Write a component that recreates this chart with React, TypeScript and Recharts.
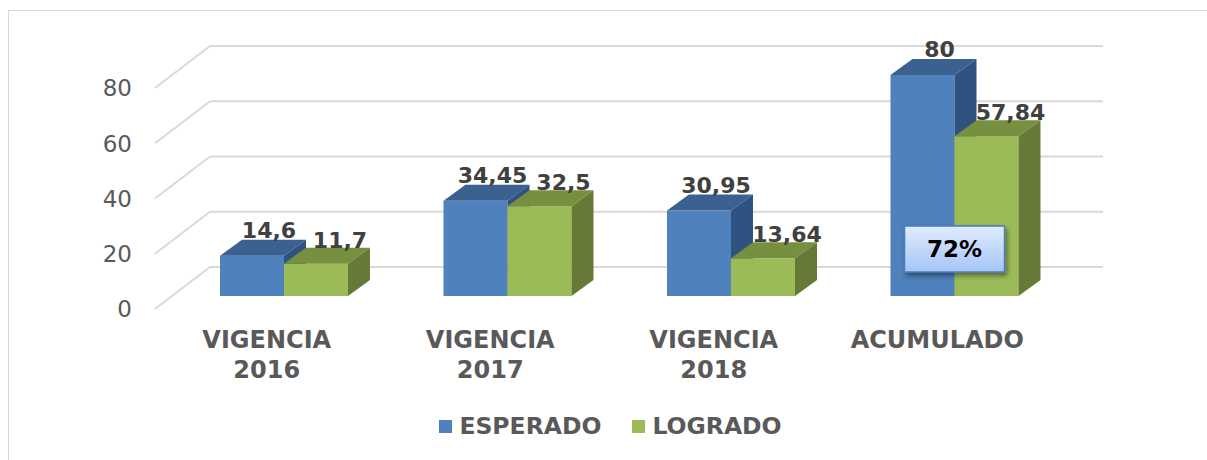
import React from "react"
import { BarChart, Bar, XAxis, YAxis, CartesianGrid, Legend, LabelList } from "recharts"

const categories = ["VIGENCIA 2016", "VIGENCIA 2017", "VIGENCIA 2018", "ACUMULADO"]
const esperado = [14.6, 34.45, 30.95, 80]
const logrado = [11.7, 32.5, 13.64, 57.84]
const yTicks = [0, 20, 40, 60, 80]

const data = categories.map((name, i) => ({
  name,
  esperado: esperado[i],
  logrado: logrado[i],
}))

const FONT = "'DejaVu Sans', Verdana, sans-serif"
const DX = 22
const DY = 16
// offsets of the back wall and of the axis labels from the bar plane
const WALL_SHIFT = -29
const FRONT_SHIFT = 13

const BLUE = { front: "#4f81bd", top: "#3a6190", side: "#2f5380" }
const GREEN = { front: "#9bbb59", top: "#76903f", side: "#667a37" }

const fmt = (v: number) => String(v).replace(".", ",")

function Box3D(props: any) {
  const { x, y, width, height, colors } = props
  if (height == null || width == null) return null
  const r = x + width
  const b = y + height
  return (
    <g>
      <rect x={x} y={y} width={width} height={height} fill={colors.front} />
      <polygon points={`${x},${y} ${x + DX},${y - DY} ${r + DX},${y - DY} ${r},${y}`} fill={colors.top} />
      <polygon points={`${r},${y} ${r + DX},${y - DY} ${r + DX},${b - DY} ${r},${b}`} fill={colors.side} />
    </g>
  )
}

function GridLine(props: any) {
  const { y1, index } = props
  const y = y1
  return (
    <g key={`g-${index}`}>
      <line x1={210} x2={1103} y1={y + WALL_SHIFT} y2={y + WALL_SHIFT} stroke="#d9d9d9" strokeWidth={2} />
      <line x1={155} x2={210} y1={y + FRONT_SHIFT} y2={y + WALL_SHIFT} stroke="#d9d9d9" strokeWidth={2} />
    </g>
  )
}

function YTick(props: any) {
  const { y, payload } = props
  return (
    <text x={132} y={y + FRONT_SHIFT} dy="0.36em" textAnchor="end" fill="#595959" fontSize={23} fontFamily={FONT}>
      {payload.value}
    </text>
  )
}

function XTick(props: any) {
  const { x, y, payload } = props
  const lines = String(payload.value).split(" ")
  return (
    <text textAnchor="middle" fill="#595959" fontSize={24} fontWeight="bold" fontFamily={FONT}>
      {lines.map((l, i) => (
        <tspan key={i} x={x - 17} y={y + 52 + i * 30}>
          {l}
        </tspan>
      ))}
    </text>
  )
}

const makeLabel = (shift: number, lift: number) => (p: any) => {
  const { x, y, width, value } = p
  return (
    <text x={x + width / 2 + shift} y={y - lift} textAnchor="middle" fill="#404040" fontSize={22} fontWeight="bold" fontFamily={FONT}>
      {fmt(value)}
    </text>
  )
}

const pct = Math.round((logrado[logrado.length - 1] / esperado[esperado.length - 1]) * 100)

function RatioBox(p: any) {
  const { x, y, height, index } = p
  if (index !== categories.length - 1) return null
  const cx = x
  const cy = y + height - 47
  const w = 100
  const h = 46
  return (
    <g>
      <defs>
        <linearGradient id="boxGrad" x1="0" y1="0" x2="0" y2="1">
          <stop offset="0%" stopColor="#e0ecfe" />
          <stop offset="100%" stopColor="#a5c5f6" />
        </linearGradient>
        <filter id="boxShadow" x="-20%" y="-20%" width="140%" height="150%">
          <feDropShadow dx="2" dy="3" stdDeviation="2.5" floodColor="#000" floodOpacity="0.45" />
        </filter>
      </defs>
      <rect x={cx - w / 2} y={cy - h / 2} width={w} height={h} fill="url(#boxGrad)" stroke="#4a7ebb" strokeWidth={1.5} filter="url(#boxShadow)" />
      <text x={cx} y={cy} dy="0.36em" textAnchor="middle" fill="#000" fontSize={23} fontWeight="bold" fontFamily={FONT}>
        {pct}%
      </text>
    </g>
  )
}

function LegendContent() {
  const items = [
    { label: "ESPERADO", color: BLUE.front },
    { label: "LOGRADO", color: GREEN.front },
  ]
  return (
    <div style={{ display: "flex", justifyContent: "center", paddingLeft: 14, fontFamily: FONT }}>
      {items.map((it, i) => (
        <div key={it.label} style={{ display: "flex", alignItems: "center", marginLeft: i ? 31 : 0 }}>
          <span style={{ width: 13, height: 13, background: it.color, display: "inline-block", marginRight: 7 }} />
          <span style={{ fontSize: 23.5, fontWeight: "bold", color: "#595959", lineHeight: "28px" }}>{it.label}</span>
        </div>
      ))}
    </div>
  )
}

export default function App() {
  return (
    <div style={{ position: "absolute", left: 0, top: 0, width: 1207, height: 460, background: "#fff" }}>
      <div
        style={{
          position: "absolute",
          left: 8,
          top: 10,
          right: 0,
          bottom: 0,
          borderTop: "1px solid #d9d9d9",
          borderLeft: "1px solid #d9d9d9",
        }}
      />
      <BarChart
        width={1207}
        height={460}
        data={data}
        margin={{ top: 75, right: 141, bottom: 104, left: 112 }}
        barCategoryGap={48}
        barGap={0}
      >
        <CartesianGrid vertical={false} horizontal={GridLine} />
        <XAxis dataKey="name" height={60} axisLine={false} tickLine={false} tickSize={0} tickMargin={0} tick={XTick} interval={0} />
        <YAxis domain={[0, 80]} ticks={yTicks} width={60} axisLine={false} tickLine={false} tick={YTick} />
        <Legend verticalAlign="middle" wrapperStyle={{ top: 412, left: 0, width: 1207 }} content={LegendContent} />
        <Bar dataKey="esperado" name="ESPERADO" fill={BLUE.front} isAnimationActive={false} shape={(p: any) => <Box3D {...p} colors={BLUE} />}>
          <LabelList dataKey="esperado" content={makeLabel(17, 18)} />
        </Bar>
        <Bar dataKey="logrado" name="LOGRADO" fill={GREEN.front} isAnimationActive={false} shape={(p: any) => <Box3D {...p} colors={GREEN} />}>
          <LabelList dataKey="logrado" content={makeLabel(24, 16)} />
          <LabelList dataKey="logrado" content={RatioBox} />
        </Bar>
      </BarChart>
    </div>
  )
}
